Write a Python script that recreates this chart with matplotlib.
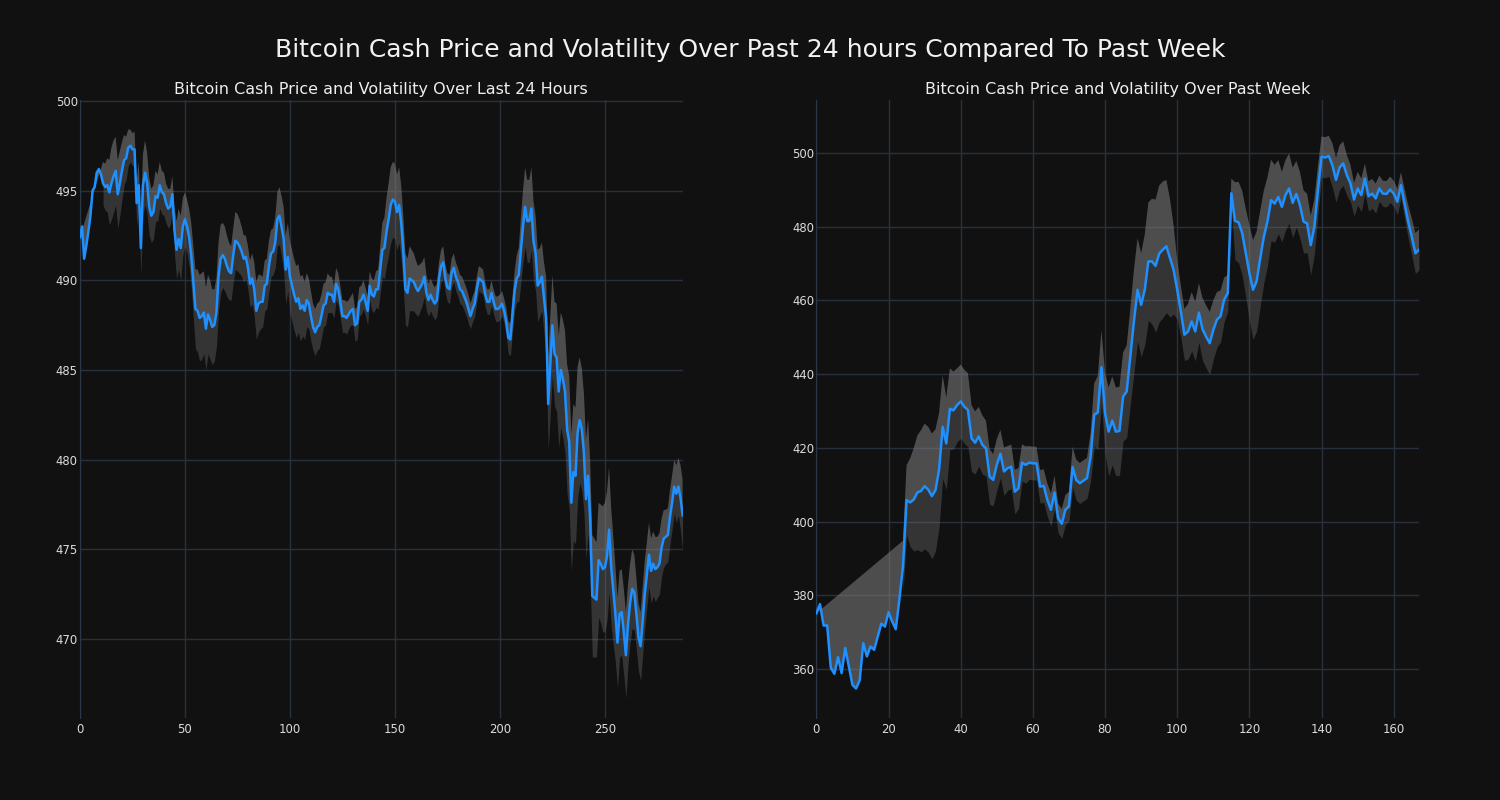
import numpy as np
import matplotlib
matplotlib.use('Agg')
import matplotlib.pyplot as plt

# Precos das ultimas 24 horas (intervalos de 5 minutos)
price_24h = [
    492.4, 493.0, 491.2, 491.9, 492.7, 493.6, 495.0, 495.2, 496.0, 496.2,
    495.9, 495.4, 495.2, 495.3, 494.9, 495.4, 495.8, 496.1, 494.8, 495.4,
    496.1, 496.7, 496.8, 497.4, 497.5, 497.3, 497.3, 494.3, 495.3, 491.8,
    495.3, 496.0, 495.4, 494.1, 493.6, 493.8, 494.7, 494.6, 495.3, 494.9,
    494.8, 494.3, 494.0, 494.1, 494.8, 492.8, 491.7, 492.3, 491.8, 493.0,
    493.4, 493.0, 492.4, 491.4, 489.9, 488.4, 488.3, 487.9, 488.0, 488.2,
    487.3, 488.1, 487.8, 487.4, 487.5, 488.2, 490.2, 491.2, 491.4, 491.2,
    490.8, 490.5, 490.4, 491.4, 492.2, 492.1, 491.9, 491.6, 491.2, 491.3,
    490.7, 489.8, 490.1, 489.5, 488.3, 488.7, 488.8, 488.8, 489.7, 489.8,
    490.8, 491.5, 491.6, 492.1, 493.4, 493.6, 493.0, 492.3, 490.6, 491.3,
    490.2, 489.7, 489.2, 488.8, 489.0, 488.4, 488.6, 488.3, 488.9, 488.7,
    488.0, 487.4, 487.1, 487.4, 487.5, 488.0, 488.6, 488.7, 489.3, 489.2,
    489.2, 488.8, 489.8, 489.5, 488.8, 488.0, 488.0, 487.9, 488.1, 488.3,
    488.4, 487.5, 487.6, 488.8, 488.9, 489.2, 488.8, 488.3, 489.7, 489.2,
    489.1, 489.5, 489.5, 490.6, 491.7, 491.8, 492.7, 493.4, 494.2, 494.5,
    494.4, 493.8, 494.2, 493.2, 491.6, 489.5, 489.3, 490.1, 490.0, 489.9,
    489.6, 489.4, 489.6, 489.8, 490.2, 489.3, 488.9, 489.2, 488.9, 488.7,
    488.9, 490.1, 490.8, 491.0, 490.1, 489.6, 489.5, 490.4, 490.7, 490.2,
    489.9, 489.5, 489.4, 489.1, 488.8, 488.4, 488.0, 488.4, 488.7, 489.5,
    490.1, 490.0, 489.9, 489.2, 488.8, 488.8, 489.3, 488.8, 488.4, 488.4,
    488.5, 488.7, 488.3, 487.7, 486.8, 486.7, 488.1, 489.4, 490.1, 490.3,
    491.7, 493.0, 494.1, 493.3, 493.3, 494.0, 492.2, 491.5, 489.7, 489.9,
    490.2, 489.0, 487.9, 483.1, 485.3, 487.5, 485.9, 485.7, 483.8, 485.0,
    484.5, 483.8, 481.7, 481.0, 477.6, 479.3, 479.1, 481.5, 482.2, 481.7,
    480.4, 477.8, 479.1, 476.6, 472.4, 472.3, 472.2, 474.4, 474.2, 473.9,
    474.0, 474.6, 476.1, 474.0, 472.7, 471.4, 469.8, 471.4, 471.5, 470.4,
    469.1, 470.8, 472.0, 472.8, 472.6, 471.4, 470.1, 469.6, 471.0, 472.5,
    473.6, 474.7, 473.8, 474.2, 473.9, 474.0, 474.2, 475.1, 475.6, 475.7,
    475.8, 476.8, 477.6, 478.5, 478.1, 478.5, 477.9, 476.9,
]

# Volatilidade (meia largura da faixa), sem valor no inicio da janela
vol_24h = [np.nan] * 11 + [
    1.2, 1.3, 1.5, 1.8, 2.0, 2.0, 1.9, 1.9, 1.8,
    1.6, 1.4, 1.2, 1.0, 0.9, 0.9, 1.0, 1.2, 1.3, 1.5,
    1.7, 1.8, 1.7, 1.6, 1.5, 1.5, 1.4, 1.3, 1.3, 1.2,
    1.2, 1.1, 1.1, 1.0, 1.0, 1.3, 1.6, 1.7, 1.8, 1.6,
    1.5, 1.5, 1.6, 1.8, 2.0, 2.2, 2.3, 2.4, 2.4, 2.3,
    2.3, 2.2, 2.2, 2.1, 2.0, 1.9, 1.9, 1.9, 1.8, 1.8,
    1.7, 1.6, 1.5, 1.5, 1.6, 1.6, 1.5, 1.4, 1.3, 1.2,
    1.2, 1.3, 1.4, 1.5, 1.6, 1.6, 1.5, 1.4, 1.4, 1.4,
    1.4, 1.3, 1.3, 1.4, 1.5, 1.6, 1.7, 1.8, 1.9, 1.9,
    2.0, 2.0, 2.0, 2.0, 1.9, 1.8, 1.7, 1.6, 1.5, 1.4,
    1.4, 1.3, 1.3, 1.3, 1.3, 1.2, 1.2, 1.2, 1.1, 1.0,
    1.0, 0.9, 0.9, 0.9, 0.9, 0.9, 0.9, 0.9, 0.8, 0.8,
    0.9, 0.9, 0.9, 0.8, 0.8, 0.8, 0.8, 0.8, 0.8, 0.9,
    0.9, 1.0, 1.1, 1.3, 1.5, 1.7, 1.9, 2.0, 2.1, 2.1,
    2.1, 2.1, 2.1, 2.1, 2.0, 2.0, 1.9, 1.8, 1.7, 1.6,
    1.5, 1.4, 1.3, 1.2, 1.1, 1.0, 0.9, 0.9, 0.9, 0.9,
    0.9, 0.9, 0.9, 0.9, 0.8, 0.8, 0.8, 0.8, 0.8, 0.8,
    0.8, 0.8, 0.8, 0.8, 0.8, 0.8, 0.7, 0.7, 0.7, 0.7,
    0.7, 0.7, 0.7, 0.7, 0.7, 0.7, 0.7, 0.7, 0.7, 0.7,
    0.7, 0.7, 0.7, 0.8, 0.9, 0.9, 1.0, 1.1, 1.3, 1.5,
    1.8, 2.0, 2.2, 2.3, 2.3, 2.3, 2.2, 2.1, 2.0, 1.9,
    1.9, 2.0, 2.3, 2.6, 2.7, 2.8, 2.9, 3.0, 3.1, 3.2,
    3.3, 3.4, 3.6, 3.7, 3.8, 3.8, 3.8, 3.7, 3.5, 3.4,
    3.3, 3.3, 3.2, 3.3, 3.4, 3.3, 3.2, 3.2, 3.3, 3.5,
    3.6, 3.6, 3.5, 3.3, 3.0, 2.7, 2.5, 2.4, 2.4, 2.4,
    2.4, 2.2, 2.2, 2.2, 2.1, 2.0, 1.9, 1.9, 1.9, 1.9,
    1.8, 1.8, 1.8, 1.8, 1.8, 1.7, 1.7, 1.6, 1.6, 1.5,
    1.5, 1.5, 1.5, 1.5, 1.6, 1.6, 1.8, 2.0,
]

# Precos da ultima semana (intervalos de 1 hora)
price_week = [
    375.1, 377.6, 371.8, 371.8, 360.3, 358.7, 363.2, 358.9, 365.7, 360.7,
    355.7, 354.7, 356.9, 367.0, 363.4, 366.1, 365.2, 368.8, 372.3, 371.5,
    375.4, 372.9, 370.8, 378.8, 387.8, 405.8, 405.2, 406.0, 407.9, 408.3,
    409.6, 408.7, 406.9, 408.5, 414.0, 425.7, 421.2, 430.6, 430.2, 431.6,
    432.6, 431.2, 430.3, 422.6, 421.4, 423.1, 420.8, 419.9, 412.2, 411.3,
    415.4, 418.4, 413.6, 414.5, 414.9, 408.1, 409.0, 416.0, 415.4, 416.0,
    415.8, 415.8, 409.5, 409.7, 405.9, 403.2, 407.9, 400.9, 399.4, 403.2,
    404.1, 414.8, 411.3, 410.4, 411.1, 411.8, 417.6, 429.0, 429.6, 441.9,
    429.4, 424.4, 427.4, 424.4, 424.6, 433.9, 435.3, 444.8, 454.3, 462.9,
    458.8, 462.9, 470.6, 470.6, 469.4, 472.7, 473.8, 474.7, 471.5, 468.3,
    462.9, 457.0, 450.7, 451.6, 454.3, 451.6, 456.7, 452.2, 450.2, 448.4,
    452.0, 454.8, 455.7, 460.2, 462.0, 489.1, 481.6, 481.2, 478.3, 472.9,
    467.4, 462.9, 465.2, 471.4, 477.3, 481.4, 487.2, 486.3, 488.1, 485.4,
    488.6, 490.4, 486.5, 488.9, 485.9, 481.4, 480.9, 475.0, 480.0, 490.0,
    499.0, 498.8, 499.2, 496.7, 492.7, 496.1, 497.2, 494.0, 491.8, 487.4,
    490.4, 488.6, 493.1, 488.3, 489.0, 487.7, 490.4, 489.0, 488.9, 490.1,
    489.0, 486.8, 491.3, 486.3, 481.4, 477.3, 472.8, 473.8,
]

vol_week = [np.nan] * 24 + [
    7.0, 9.5, 12.0, 14.0, 15.5, 16.5,
    17.0, 17.0, 17.0, 16.5, 15.5, 14.0, 12.5, 11.0, 10.5, 10.0,
    10.0, 10.0, 10.0, 9.0, 8.5, 8.0, 8.0, 7.5, 7.5, 7.0,
    7.0, 6.5, 6.5, 6.0, 6.0, 6.0, 5.5, 5.0, 5.0, 4.5,
    4.5, 4.5, 4.5, 4.5, 4.5, 4.5, 4.5, 4.0, 4.0, 4.0,
    4.0, 5.5, 5.5, 5.5, 5.5, 5.5, 6.5, 8.5, 10.0, 10.0,
    11.0, 12.0, 12.0, 12.0, 12.0, 12.0, 12.5, 13.0, 14.0, 14.0,
    14.0, 15.0, 16.0, 17.0, 18.0, 18.5, 18.5, 18.0, 16.0, 12.0,
    8.0, 7.0, 7.0, 7.5, 8.0, 8.0, 8.0, 8.5, 8.5, 8.5,
    8.0, 7.5, 7.0, 6.0, 5.0, 4.0, 10.5, 11.0, 11.5, 12.0,
    13.0, 13.5, 13.5, 13.0, 12.5, 12.0, 11.0, 10.5, 10.0, 9.5,
    9.5, 9.5, 9.5, 9.0, 9.0, 8.5, 8.0, 8.0, 7.5, 6.5,
    5.5, 5.5, 5.5, 6.0, 6.0, 6.0, 6.0, 5.5, 5.0, 4.5,
    4.5, 4.5, 4.0, 4.0, 4.0, 4.0, 3.5, 3.5, 3.5, 3.5,
    3.5, 3.5, 3.5, 4.0, 4.5, 5.0, 5.5, 5.5,
]

titles = ['Bitcoin Cash Price and Volatility Over Last 24 Hours',
          'Bitcoin Cash Price and Volatility Over Past Week']

BG = '#111111'
GRID = '#28303c'
TXT = '#dcdcdc'


def draw_panel(ax, price, vol, title, ylim):
    price = np.array(price)
    vol = np.array(vol)
    x = np.arange(len(price))
    upper = price + vol
    lower = price - vol
    ok = ~np.isnan(vol)

    # metade de cima da faixa (fecha ate o primeiro preco)
    px = np.concatenate([x[ok], x[::-1]])
    py = np.concatenate([upper[ok], price[::-1]])
    ax.fill(px, py, color='#808080', alpha=0.55, lw=0, zorder=2)
    # metade de baixo
    ax.fill_between(x[ok], lower[ok], price[ok], color='#808080',
                    alpha=0.32, lw=0, zorder=2)

    ax.plot(x, price, color='#1e90ff', lw=1.8, zorder=3)

    ax.set_xlim(0, len(price) - 1)
    ax.set_ylim(*ylim)
    ax.set_facecolor(BG)
    ax.grid(True, color=GRID, lw=1)
    ax.set_axisbelow(True)
    for s in ['top', 'right', 'bottom']:
        ax.spines[s].set_visible(False)
    ax.spines['left'].set_color('#2c3848')
    ax.tick_params(colors=TXT, labelsize=8.4, length=0)
    ax.tick_params(axis='y', pad=1.5)
    ax.tick_params(axis='x', pad=3.5)
    ax.set_title(title, color='#eeeeee', fontsize=11.5, pad=4)


fig = plt.figure(figsize=(15, 8), facecolor=BG)
plt.subplots_adjust(left=0.0533, right=0.946, bottom=0.1025, top=0.875,
                    wspace=0.222)

ax1 = plt.subplot(1, 2, 1)
draw_panel(ax1, price_24h, vol_24h, titles[0], (465.6, 500.05))

ax2 = plt.subplot(1, 2, 2)
draw_panel(ax2, price_week, vol_week, titles[1], (346.7, 514.4))

fig.suptitle('Bitcoin Cash Price and Volatility Over Past 24 hours Compared To Past Week',
             color='#f2f2f2', fontsize=18, y=0.9375, va='center')

plt.savefig('out.png', dpi=100, facecolor=BG)
